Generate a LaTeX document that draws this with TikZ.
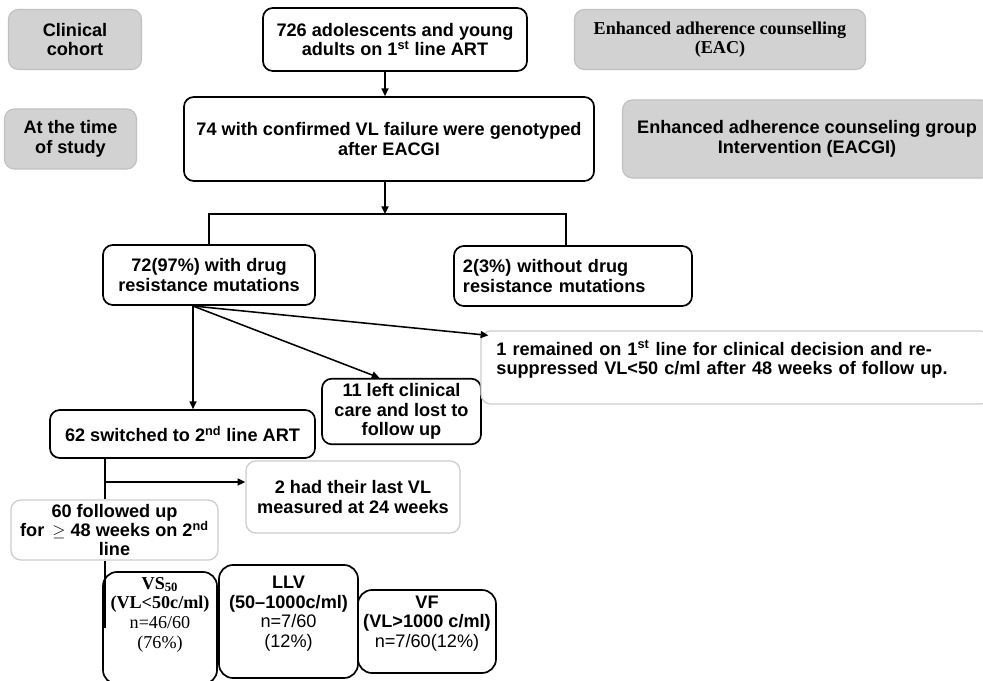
\documentclass[tikz,border=0pt]{standalone}
\usepackage{fontspec}
\setmainfont{Liberation Sans}
\newfontfamily\serifbox{Liberation Serif}
\definecolor{tagGray}{RGB}{210,210,210}
\definecolor{tagEdge}{RGB}{192,192,192}
\definecolor{paleEdge}{RGB}{205,205,205}
\usetikzlibrary{arrows.meta, positioning}
\newcommand{\boxsize}{\fontsize{12.9}{14}\selectfont}

\begin{document}
\begin{tikzpicture}[x=0.025cm, y=-0.025cm,
  flow/.style={rectangle, rounded corners=7pt, draw=black, line width=1.2pt,
               fill=white, align=center, font=\boxsize\bfseries},
  tag/.style={rectangle, rounded corners=7pt, draw=tagEdge, line width=0.8pt,
              fill=tagGray, align=center, font=\boxsize\bfseries},
  soft/.style={rectangle, rounded corners=7pt, draw=paleEdge, line width=0.9pt,
               fill=white, align=center, font=\boxsize\bfseries},
  result/.style={rectangle, rounded corners=10pt, draw=black, line width=1.2pt,
                 fill=white, align=center, font=\boxsize},
  arrow/.style={-{Triangle[length=5.5pt, width=5pt]}, line width=1.1pt},
  line/.style={line width=1.1pt},
]
  \useasboundingbox (0,0) rectangle (983,681);

  % first line cohort
  \node[flow, minimum width=6.6cm, minimum height=1.575cm] (cohort) at (395,39.5)
    {726 adolescents and young\\adults on 1\textsuperscript{st} line ART};
  \node[tag, minimum width=3.325cm, minimum height=1.5cm, left=3cm of cohort] (clin)
    {Clinical\\cohort};
  \node[tag, minimum width=7.275cm, minimum height=1.5cm, right=1.15cm of cohort,
        font=\serifbox\boxsize\bfseries] (eac)
    {Enhanced adherence counselling\\(EAC)};

  % genotyping
  \node[flow, minimum width=10.25cm, minimum height=2.1cm] (geno) at (389,139)
    {74 with confirmed VL failure were genotyped\\after EACGI};
  \node[tag, minimum width=3.3cm, minimum height=1.5cm, left=1.15cm of geno] (study)
    {At the time\\of study};
  \node[tag, minimum width=9.225cm, minimum height=1.95cm, right=0.675cm of geno] (eacgi)
    {Enhanced adherence counseling group\\Intervention (EACGI)};

  \node[flow, minimum width=5.3cm, minimum height=1.5cm] (drm) at (209,275)
    {72(97\%) with drug\\resistance mutations};
  \node[flow, minimum width=5.95cm, minimum height=1.5cm, text width=5.5cm,
        align=left] (nodrm) at (573,276)
    {2(3\%) without drug\\resistance mutations};

  \node[flow, minimum width=3.975cm, minimum height=1.575cm] (lost) at (401.5,411.5)
    {11 left clinical\\care and lost to\\follow up};
  \node[soft, minimum width=12.725cm, minimum height=1.825cm, text width=11.95cm,
        align=left] (remain) at (735.5,367.5)
    {1 remained on 1\textsuperscript{st} line for clinical decision and re-\\
     suppressed VL<50 c/ml after 48 weeks of follow up.\\\mbox{}};
  \node[flow, minimum width=6.625cm, minimum height=1.2cm] (switch) at (182.5,434)
    {62 switched to 2\textsuperscript{nd} line ART};

  % second line follow up
  \node[soft, minimum width=5.35cm, minimum height=1.8cm] (wlast) at (353,497)
    {2 had their last VL\\measured at 24 weeks};
  \node[soft, minimum width=5.175cm, minimum height=1.5cm, inner ysep=1pt,
        font=\fontsize{12.9}{13.6}\selectfont\bfseries] (fu60) at (114.5,530)
    {60 followed up\\for \,$\geq$ 48 weeks on 2\textsuperscript{nd}\\line};

  \node[result, minimum width=2.85cm, minimum height=2.8cm,
        font=\serifbox\boxsize] (vs50) at (160,628)
    {\textbf{VS\textsubscript{50}}\\\textbf{(VL<50c/ml)}\\ n=46/60\\ (76\%)\\[0.28cm]\mbox{}};
  \node[result, minimum width=3.475cm, minimum height=2.825cm] (llv) at (288.5,621.5)
    {\textbf{LLV}\\\textbf{(50--1000c/ml)}\\ n=7/60\\ (12\%)\\\mbox{}};
  \node[result, minimum width=3.45cm, minimum height=2.075cm] (vf) at (427,631.5)
    {\textbf{VF}\\\textbf{(VL>1000 c/ml)}\\ n=7/60(12\%)\\\mbox{}};

  % connectors
  \coordinate (split) at (385,214);
  \coordinate (splitR) at (566,214);
  \coordinate (fork) at (193,306);
  \coordinate (tap) at (105,482);

  \draw[arrow] (split |- cohort.south) -- (split |- geno.north);
  \draw[arrow] (split |- geno.south) -- (split);
  \draw[line] (drm.north) |- (splitR) -- (splitR |- nodrm.north);

  \draw[arrow] (fork) -- (fork |- switch.north);
  \draw[arrow] (fork) -- ([xshift=-0.55cm]lost.north);
  \draw[arrow] (fork) -- ([xshift=0.2cm, yshift=-0.125cm]remain.north west);

  \draw[line] (tap |- switch.south) -- (tap |- fu60.north);
  \draw[arrow] (tap) -- (tap -| wlast.west);
  \draw[line] (tap |- fu60.south) -- (tap |- vs50.west);
\end{tikzpicture}
\end{document}
